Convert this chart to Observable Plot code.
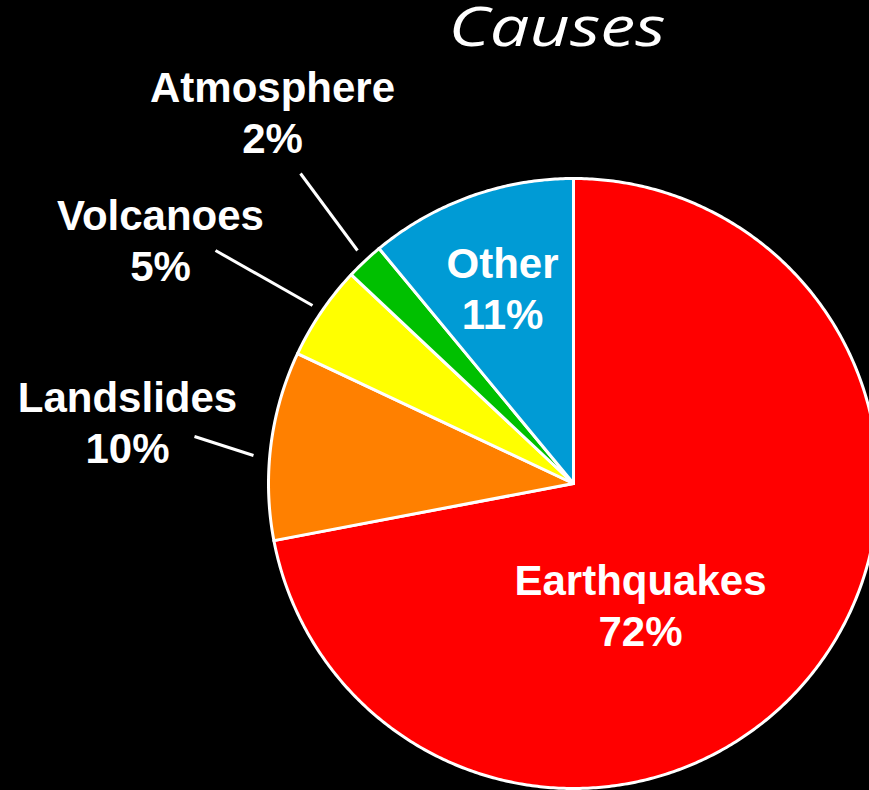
<!DOCTYPE html>
<html>
<head>
<meta charset="utf-8">
<script src="https://cdn.jsdelivr.net/npm/d3@7"></script>
<script src="https://cdn.jsdelivr.net/npm/@observablehq/plot@0.6"></script>
<style>
  html, body { margin: 0; padding: 0; background: #000; overflow: hidden; }
  #wrap { position: relative; width: 869px; height: 790px; }
  #chart svg { display: block; }
  #title {
    position: absolute; left: 557px; top: 4px;
    transform: translateX(-50%) scaleX(1.3);
    font-family: "Open Sans", sans-serif; font-style: italic; font-weight: 400;
    font-size: 54px; line-height: 0.8; color: #fff; white-space: nowrap;
  }
</style>
</head>
<body>
<div id="wrap">
  <div id="chart"></div>
  <div id="title"></div>
</div>
<script>
// Causes and their shares (percent), clockwise from 12 o'clock
const causes = ["Earthquakes", "Landslides", "Volcanoes", "Atmosphere", "Other"];
const shares = [72, 10, 5, 2, 11];
const sliceColors = ["#ff0000", "#ff8000", "#ffff00", "#00c000", "#009bd5"];
const title = "Causes";

// Layout (chart units: one unit per pixel, pie centre at 0,0)
const R = 305;
const labelAt = {
  Earthquakes: [67, -121],
  Other: [-71, 196],
  Atmosphere: [-301, 372],
  Volcanoes: [-413, 244],
  Landslides: [-446, 62]
};
const leaderAt = {
  Atmosphere: [[-273, 310], [-216, 233]],
  Volcanoes: [[-358, 233], [-261, 178]],
  Landslides: [[-379, 47], [-320, 28]]
};

// Wedge outlines: centre -> arc -> centre, angle measured clockwise from top
const wedges = [];
let acc = 0;
causes.forEach((cause, i) => {
  const a0 = (acc / 100) * 2 * Math.PI;
  const a1 = ((acc + shares[i]) / 100) * 2 * Math.PI;
  acc += shares[i];
  const steps = Math.max(4, Math.ceil((a1 - a0) / (Math.PI / 360)));
  wedges.push({cause, x: 0, y: 0});
  for (let k = 0; k <= steps; k++) {
    const a = a0 + ((a1 - a0) * k) / steps;
    wedges.push({cause, x: R * Math.sin(a), y: R * Math.cos(a)});
  }
  wedges.push({cause, x: 0, y: 0});
});

const labels = causes.map((cause, i) => ({
  cause,
  text: `${cause}\n${shares[i]}%`,
  x: labelAt[cause][0],
  y: labelAt[cause][1]
}));

const leaders = Object.entries(leaderAt).map(([cause, [[x1, y1], [x2, y2]]]) => ({cause, x1, y1, x2, y2}));

const chart = Plot.plot({
  width: 869,
  height: 790,
  margin: 0,
  style: {background: "#000", overflow: "hidden"},
  x: {domain: [-573, 296], axis: null},
  y: {domain: [-307, 483], axis: null},
  color: {domain: causes, range: sliceColors},
  marks: [
    Plot.line(wedges, {
      x: "x", y: "y", z: "cause", fill: "cause",
      stroke: "white", strokeWidth: 3, strokeLinejoin: "round"
    }),
    Plot.link(leaders, {x1: "x1", y1: "y1", x2: "x2", y2: "y2", stroke: "white", strokeWidth: 3}),
    Plot.text(labels, {
      x: "x", y: "y", text: "text",
      fill: "white", fontSize: 42, fontWeight: "bold",
      fontFamily: "'Liberation Sans', Arial, sans-serif",
      lineHeight: 1.2, textAnchor: "middle"
    })
  ]
});

document.getElementById("chart").appendChild(chart);
document.getElementById("title").textContent = title;
</script>
</body>
</html>
